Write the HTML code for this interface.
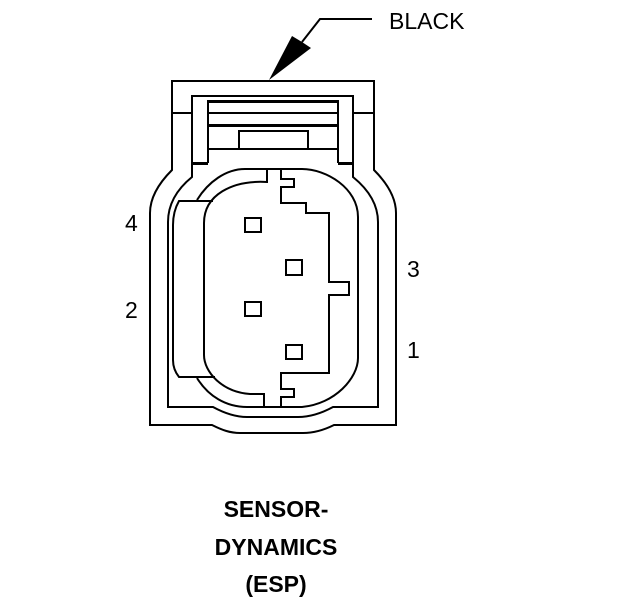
<!DOCTYPE html>
<html><head><meta charset="utf-8"><style>
html,body{margin:0;padding:0;background:#fff}
svg{display:block}
text{font-family:"Liberation Sans",sans-serif;fill:#000}
</style></head><body>
<svg width="624" height="600" viewBox="0 0 624 600" xmlns="http://www.w3.org/2000/svg">
<g fill="none" stroke="#000" stroke-width="2">
<path d="M172 170V81H374V170C387 183 396 197 396 213V425H334C322 431 313 433 303 433H240C230 433 222 430 212 425H150V213C150 197 159 183 172 170Z"/>
<path d="M192 177V96H353V177C369 190 378 205 378 222V407H333C322 413 310 417 298 417H247C235 417 224 413 213 407H168V222C168 205 176 190 192 177Z"/>
<path d="M172 113H192M353 113H374"/>
<path d="M208 163V101M338 101V163"/>
<path d="M208 113H338M208 149H338M239 149V131H308V149"/>
<path d="M197 200C208 182 226 169 245 169H302C326 169 358 188 358 217V358C358 378 335 404 302 407H247C226 407 208 396 197 378"/>
<path d="M213 201H179C175 208 173 216 173 225V360C173 367 175 372 179 377H215"/>
<path d="M267 169V182C232 180 204 195 204 223V355C204 372 222 392 250 394H264V407"/>
<path d="M281 169V179H294V187H281V203H306V213H329V282H349V295H329V373H281V389H294V397H281V407"/>
<rect x="245" y="218" width="16" height="14"/>
<rect x="245" y="302" width="16" height="14"/>
<rect x="286" y="260" width="16" height="15"/>
<rect x="286" y="345" width="16" height="14"/>
<path d="M372 19H320L302 42"/>
</g>
<g fill="none" stroke="#000" stroke-width="3">
<path d="M192 163.5H208M338 163.5H353M207 101.5H339M208 125.5H338"/>
</g>
<polygon points="269,80 292,36 302,42 311,48" fill="#000"/>
<text x="389" y="29" font-size="23">BLACK</text>
<text x="125" y="231" font-size="23">4</text>
<text x="125" y="318" font-size="23">2</text>
<text x="407" y="277" font-size="23">3</text>
<text x="407" y="358" font-size="23">1</text>
<g font-weight="700" font-size="23" text-anchor="middle">
<text x="276" y="517">SENSOR-</text>
<text x="276" y="555">DYNAMICS</text>
<text x="276" y="592">(ESP)</text>
</g>
</svg>
</body></html>
